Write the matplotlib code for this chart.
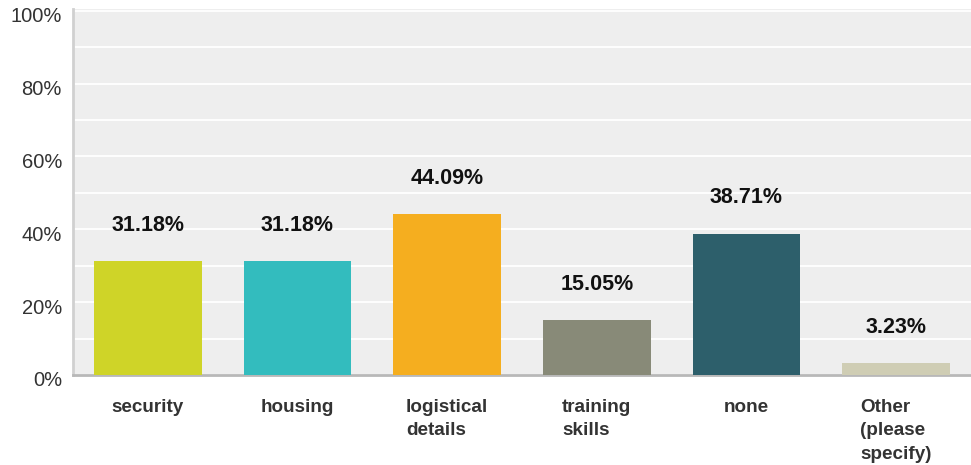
import numpy as np
import matplotlib
matplotlib.use("Agg")
from matplotlib import pyplot as plt
from matplotlib.transforms import ScaledTranslation

categories = ["security", "housing", "logistical\ndetails", "training\nskills", "none", "Other\n(please\nspecify)"]
values = [31.18, 31.18, 44.09, 15.05, 38.71, 3.23]
colors = ["#cfd428", "#33bcbe", "#f5ae1f", "#888a78", "#2d5f6b", "#cfcdb4"]
yticks = [0, 20, 40, 60, 80, 100]

plt.rcParams["font.family"] = ["Liberation Sans", "DejaVu Sans"]

fig = plt.figure(figsize=(9.71, 4.65), dpi=100)
ax = fig.add_axes([73 / 971, 1 - 375 / 465, 898 / 971, 366 / 465])
ax.set_facecolor("#eeeeee")

x = np.arange(len(categories))
ax.bar(x, values, width=0.72, color=colors, zorder=3)

for xi, v in zip(x, values):
    ax.annotate(f"{v:.2f}%", (xi, v), xytext=(0, 26), textcoords="offset points",
                ha="center", va="center", fontsize=15.5, fontweight="bold", color="#111111")

ax.set_xlim(-0.5, len(categories) - 0.5)
ax.set_ylim(0, 100.5)
ax.set_yticks(np.arange(0, 101, 10))
ax.set_yticklabels([f"{t}%" if t in yticks else "" for t in range(0, 101, 10)])
ax.yaxis.grid(True, color="white", linewidth=1.3, zorder=0)
ax.set_axisbelow(True)

ax.set_xticks(x)
ax.set_xticklabels(categories, fontsize=13.6, fontweight="bold", color="#333333",
                   va="top", ha="center", multialignment="left", linespacing=1.5)
ax.tick_params(axis="x", length=0, pad=17)
ax.tick_params(axis="y", length=0, pad=8, labelsize=14.5, labelcolor="#333333")

# y labels sit a little below their gridlines
shift = ScaledTranslation(0, -4 / 100, fig.dpi_scale_trans)
for lbl in ax.get_yticklabels():
    lbl.set_transform(lbl.get_transform() + shift)

for side in ["top", "right"]:
    ax.spines[side].set_visible(False)
ax.spines["left"].set_color("#d0d0d0")
ax.spines["left"].set_linewidth(2)
ax.spines["bottom"].set_color("#b8b8b8")
ax.spines["bottom"].set_linewidth(2)

fig.savefig("out.png", dpi=100)
